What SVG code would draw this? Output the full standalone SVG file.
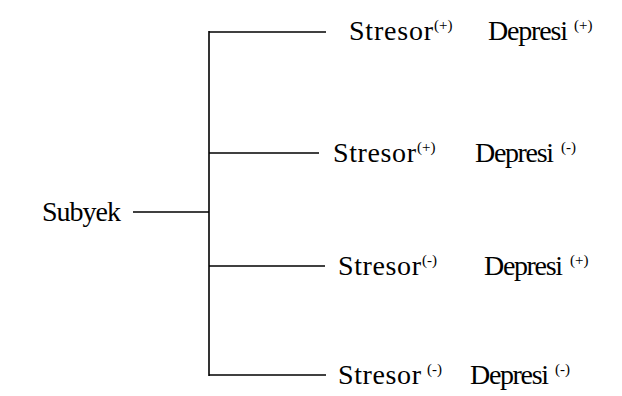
<svg xmlns="http://www.w3.org/2000/svg" width="622" height="396" viewBox="0 0 622 396">
<style>
.t{font-family:"Liberation Serif","Times New Roman",serif;font-size:28px;fill:#000}
.s{font-family:"Liberation Serif","Times New Roman",serif;font-size:15px;fill:#000}
.c{stroke:#000;stroke-width:1.6;fill:none}
</style>
<rect width="622" height="396" fill="#fff"/>
<g id="connectors">
<line class="c" x1="209" y1="31" x2="209" y2="376"/>
<line class="c" x1="209" y1="32" x2="326" y2="32"/>
<line class="c" x1="209" y1="153" x2="319" y2="153"/>
<line class="c" x1="133" y1="212" x2="209" y2="212"/>
<line class="c" x1="209" y1="266" x2="325" y2="266"/>
<line class="c" x1="209" y1="375" x2="326" y2="375"/>
</g>
<g id="subyek"><text class="t" x="42" y="221" textLength="79">Subyek</text></g>
<g id="n1">
<text class="t" x="349" y="40" textLength="84">Stresor</text><text class="s" x="434" y="30">(+)</text>
<text class="t" x="488" y="40" textLength="80">Depresi</text><text class="s" x="574" y="30">(+)</text>
</g>
<g id="n2">
<text class="t" x="333" y="162" textLength="83">Stresor</text><text class="s" x="417" y="152">(+)</text>
<text class="t" x="475" y="162" textLength="79">Depresi</text><text class="s" x="561" y="152">(-)</text>
</g>
<g id="n3">
<text class="t" x="338" y="275" textLength="83">Stresor</text><text class="s" x="422" y="265">(-)</text>
<text class="t" x="484" y="275" textLength="79">Depresi</text><text class="s" x="570" y="265">(+)</text>
</g>
<g id="n4">
<text class="t" x="338" y="384" textLength="83">Stresor</text><text class="s" x="427" y="374">(-)</text>
<text class="t" x="470" y="384" textLength="79">Depresi</text><text class="s" x="555" y="374">(-)</text>
</g>
</svg>
